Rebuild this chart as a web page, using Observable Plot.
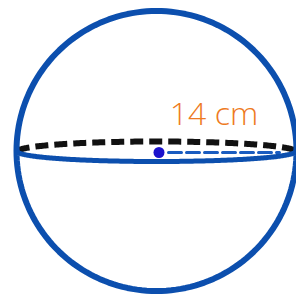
<!DOCTYPE html>
<html>
<head>
<meta charset="utf-8">
<script src="https://cdn.jsdelivr.net/npm/d3@7"></script>
<script src="https://cdn.jsdelivr.net/npm/@observablehq/plot@0.6"></script>
<style>
  html, body { margin: 0; padding: 0; background: #fff; }
  #chart { width: 296px; height: 296px; }
</style>
</head>
<body>
<div id="chart"></div>
<script>
// Sphere geometry (pixel-unit plot coordinates)
const sphereCenter = [156, 150.5];
const sphereRadius = [140];
const equatorCenter = [156, 151];
const equatorAxes = [139, 10];      // semi-major, semi-minor
const centerDot = [158.5, 152];
const radiusLineX = [168, 279];
const radiusLineY = [152];
const labelText = ["14 cm"];
const labelPos = [213.5, 114.5];
const steps = 180;

const circlePts = d3.range(steps + 1).map(i => {
  const t = (i / steps) * 2 * Math.PI;
  return {x: sphereCenter[0] + sphereRadius[0] * Math.cos(t), y: sphereCenter[1] + sphereRadius[0] * Math.sin(t)};
});
const backPts = d3.range(steps + 1).map(i => {
  const t = (i / steps) * Math.PI;
  return {x: equatorCenter[0] - equatorAxes[0] * Math.cos(t), y: equatorCenter[1] - equatorAxes[1] * Math.sin(t)};
});
const frontPts = d3.range(steps + 1).map(i => {
  const t = (i / steps) * Math.PI;
  return {x: equatorCenter[0] - equatorAxes[0] * Math.cos(t), y: equatorCenter[1] + equatorAxes[1] * Math.sin(t)};
});
const radiusPts = radiusLineX.map(x => ({x, y: radiusLineY[0]}));

const chart = Plot.plot({
  width: 296,
  height: 296,
  margin: 0,
  x: {domain: [0, 296], range: [0, 296], axis: null},
  y: {domain: [0, 296], range: [0, 296], axis: null},
  style: {background: "#fff", overflow: "hidden"},
  marks: [
    Plot.line(backPts, {x: "x", y: "y", stroke: "#111", strokeWidth: 6, strokeDasharray: "13,6", strokeLinecap: "butt"}),
    Plot.line(frontPts, {x: "x", y: "y", stroke: "#0c4fae", strokeWidth: 5}),
    Plot.line(radiusPts, {x: "x", y: "y", stroke: "#1a5cc0", strokeWidth: 3, strokeDasharray: "13,5"}),
    Plot.line(circlePts, {x: "x", y: "y", stroke: "#0c4fae", strokeWidth: 6}),
    Plot.dot([{x: centerDot[0], y: centerDot[1]}], {x: "x", y: "y", r: 5.5, fill: "#1c12cc", stroke: "none"}),
    Plot.text(labelText, {x: () => labelPos[0], y: () => labelPos[1], text: d => d, fill: "#ee7a22", fontSize: 32, fontWeight: 300, fontFamily: "'Open Sans', sans-serif", textAnchor: "middle", lineAnchor: "middle"})
  ]
});
document.getElementById("chart").appendChild(chart);
</script>
</body>
</html>
